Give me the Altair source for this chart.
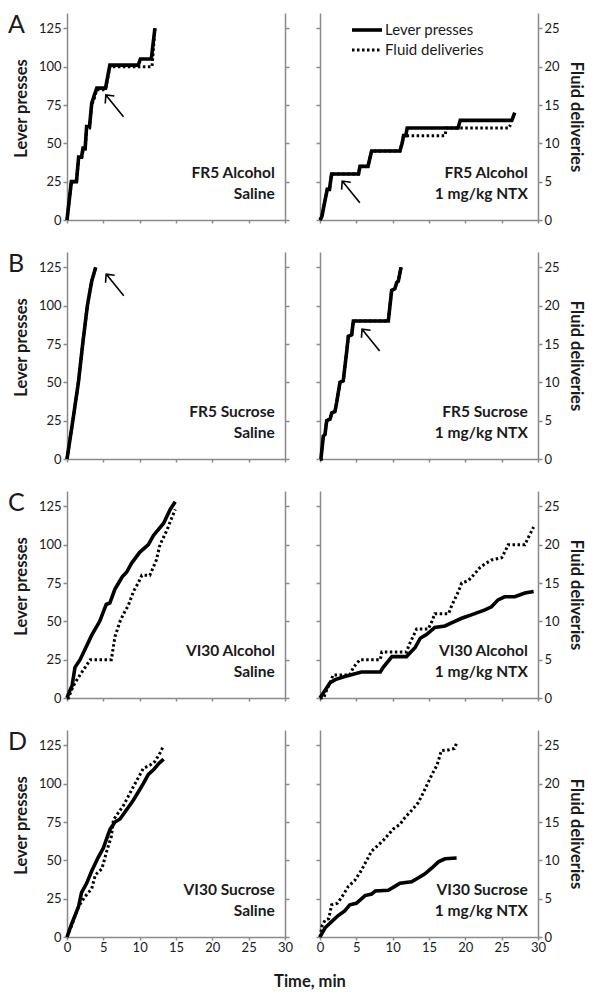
import altair as alt
import pandas as pd

FONT = "Lato"
GRAY = "#8a8a8a"
INK = "#1a1a1a"

# ---------------- data (time in min; lever presses; fluid deliveries) ----------------
# Row A : FR5 Alcohol
A_sal_lever_t = [0, 0.6, 1.3, 1.6, 2.0, 2.2, 2.5, 2.7, 3.1, 3.4, 3.8, 4.1, 5.3, 5.9, 9.8, 10.1, 11.6, 12.1]
A_sal_lever_v = [0, 25, 25, 41, 41, 47, 47, 61, 61, 76, 82, 86, 86, 101, 101, 105, 105, 125]
A_sal_fluid_t = [0, 0.6, 1.3, 1.6, 2.0, 2.2, 2.5, 2.7, 3.1, 3.4, 3.8, 4.1, 5.3, 5.9, 11.7, 12.1]
A_sal_fluid_v = [0, 5, 5, 8, 8, 9, 9, 12, 12, 15, 16, 17, 17, 20, 20, 25]
A_ntx_lever_t = [0, 0.25, 0.7, 1.0, 1.3, 1.6, 5.3, 5.5, 6.6, 7.1, 11.0, 11.3, 11.5, 11.8, 12.0, 19.0, 19.3, 26.4, 26.8]
A_ntx_lever_v = [0, 2, 13, 20, 20, 30, 30, 35, 35, 45, 45, 50, 55, 55, 60, 60, 65, 65, 70]
A_ntx_fluid_t = [0, 0.25, 0.7, 1.0, 1.3, 1.6, 5.3, 5.5, 6.6, 7.1, 11.0, 11.3, 11.5, 17.2, 17.4, 26.0, 26.2]
A_ntx_fluid_v = [0, 0.4, 2.6, 4, 4, 6, 6, 7, 7, 9, 9, 10, 11, 11, 12, 12, 12.4]

# Row B : FR5 Sucrose
B_sal_lever_t = [0, 0.8, 1.57, 2.16, 2.8, 3.4, 3.95]
B_sal_lever_v = [0, 25, 50, 75, 100, 116, 125]
B_sal_fluid_t = [0, 0.8, 1.57, 2.16, 2.8, 3.4, 3.95]
B_sal_fluid_v = [0, 5, 10, 15, 20, 23.2, 25]
B_ntx_lever_t = [0, 0.13, 0.46, 0.69, 0.92, 1.38, 1.61, 2.06, 2.3, 2.75, 3.2, 3.67, 3.9, 4.36, 4.59, 9.4, 9.63, 9.86, 10.3, 10.55, 10.78, 11.15]
B_ntx_lever_v = [0, 0, 15, 16, 25, 26, 30, 31, 37, 50, 51, 70, 80, 81, 90, 90, 100, 110, 111, 115, 116, 125]
B_ntx_fluid_t = [0, 0.13, 0.46, 0.69, 0.92, 1.38, 1.61, 2.06, 2.3, 2.75, 3.2, 3.67, 3.9, 4.36, 4.59, 9.4, 9.63, 9.86, 10.3, 10.55, 10.78, 11.15]
B_ntx_fluid_v = [0, 0, 3, 3.2, 5, 5.2, 6, 6.2, 7.4, 10, 10.2, 14, 16, 16.2, 18, 18, 20, 22, 22.2, 23, 23.2, 25]

# Row C : VI30 Alcohol
C_sal_lever_t = [0, 0.4, 0.7, 1.1, 1.8, 2.5, 3.4, 4.5, 5.4, 5.9, 6.6, 7.1, 7.6, 8.2, 8.9, 10.0, 11.2, 11.9, 13.3, 13.8, 14.2, 14.9]
C_sal_lever_v = [0, 5, 8, 20, 25, 32, 41, 50, 61, 62, 71, 75, 79, 82, 88, 95, 100, 106, 114, 119, 123, 128]
C_sal_fluid_t = [0, 0.2, 0.6, 1.1, 1.8, 2.5, 3.2, 6.1, 6.6, 7.3, 7.8, 8.4, 9.2, 9.8, 10.3, 11.4, 12.3, 12.8, 13.3, 13.8, 14.2, 14.9]
C_sal_fluid_v = [0, 0, 1, 2, 3, 4, 5, 5, 8, 10, 11, 12, 14, 15, 16, 16, 18, 20, 21, 22, 23, 24.6]
C_ntx_lever_t = [0, 0.7, 1.4, 2.1, 3.4, 5.7, 8.3, 8.7, 9.9, 11.9, 12.4, 13.1, 13.8, 14.7, 15.8, 17.2, 18.1, 19.5, 21.3, 22.7, 23.6, 24.5, 25.4, 26.8, 28.2, 29.4]
C_ntx_lever_v = [0, 5, 10, 12, 14, 17, 17, 20, 27, 27, 29.5, 33, 39, 41.5, 46, 47, 49, 52, 55, 57.5, 59.5, 64, 66, 66, 68.5, 69.5]
C_ntx_fluid_t = [0, 0.5, 0.9, 1.4, 1.8, 4.1, 4.6, 5.5, 8.3, 8.5, 11.9, 12.3, 12.8, 13.3, 14.9, 15.4, 15.8, 17.7, 18.1, 18.6, 19.1, 19.5, 20.4, 21.1, 22.0, 22.7, 23.6, 25.0, 25.4, 25.9, 28.2, 28.8, 29.4]
C_ntx_fluid_v = [0, 0, 1, 2, 3, 3, 4, 5, 5, 6, 6, 7, 8, 9, 9, 10, 11, 11, 12, 13, 14, 15, 15.3, 16, 17, 17.5, 18, 18.3, 19, 20, 20, 21.2, 22.3]

# Row D : VI30 Sucrose
D_sal_lever_t = [0, 0.6, 1.6, 2.0, 2.7, 3.4, 4.3, 5.0, 5.9, 6.6, 7.3, 8.2, 9.1, 10.0, 10.5, 11.2, 11.9, 12.6, 13.3]
D_sal_lever_v = [0, 8, 20, 29, 35, 43, 52, 58, 70, 75, 77, 83, 89, 96, 100, 106, 109, 113, 116]
D_sal_fluid_t = [0, 0.6, 1.6, 2.5, 3.4, 3.9, 4.8, 5.5, 6.1, 6.4, 7.8, 8.9, 10.0, 10.5, 11.4, 12.1, 12.8, 13.3]
D_sal_fluid_v = [0, 1.4, 4, 5.3, 6.3, 8.1, 8.9, 11.3, 13.1, 15.3, 17.2, 19.2, 21.1, 22, 22.4, 22.9, 24, 25]
D_ntx_lever_t = [0, 0.7, 1.6, 2.5, 3.4, 4.1, 5.0, 5.5, 6.2, 7.1, 7.6, 9.4, 10.3, 11.0, 12.6, 13.5, 14.4, 15.4, 16.3, 17.2, 18.8]
D_ntx_lever_v = [0, 6, 10, 14, 17, 21, 22, 24, 27, 28, 30, 30.5, 33, 35, 36, 38.5, 41, 45, 49, 51, 51.5]
D_ntx_fluid_t = [0, 0.3, 0.7, 1.2, 1.6, 2.4, 3.0, 3.9, 4.8, 5.7, 6.2, 7.1, 7.8, 8.7, 10.1, 11.0, 11.7, 12.6, 13.5, 14.1, 14.7, 15.4, 16.1, 16.7, 17.7, 18.5, 18.8]
D_ntx_fluid_v = [0, 1.5, 2.2, 2.4, 4.2, 4.4, 5.2, 6.6, 7.4, 8.7, 9.6, 11.2, 11.8, 12.6, 14.1, 14.7, 15.6, 16.5, 17.5, 18.6, 19.8, 21.2, 22.4, 24.3, 24.4, 24.6, 25.3]

ROW_LETTERS = ["A", "B", "C", "D"]
ROW_CONDITIONS = ["FR5 Alcohol", "FR5 Sucrose", "VI30 Alcohol", "VI30 Sucrose"]
TREATMENTS = ["Saline", "1 mg/kg NTX"]

# arrow annotations: (row, column) -> (time, lever presses) of arrow centre
ARROWS = {(0, 0): (6.56, 74.5), (0, 1): (4.27, 18.3), (1, 0): (6.6, 113.5), (1, 1): (7.0, 77.6)}

SERIES = [
    [(A_sal_lever_t, A_sal_lever_v, A_sal_fluid_t, A_sal_fluid_v), (A_ntx_lever_t, A_ntx_lever_v, A_ntx_fluid_t, A_ntx_fluid_v)],
    [(B_sal_lever_t, B_sal_lever_v, B_sal_fluid_t, B_sal_fluid_v), (B_ntx_lever_t, B_ntx_lever_v, B_ntx_fluid_t, B_ntx_fluid_v)],
    [(C_sal_lever_t, C_sal_lever_v, C_sal_fluid_t, C_sal_fluid_v), (C_ntx_lever_t, C_ntx_lever_v, C_ntx_fluid_t, C_ntx_fluid_v)],
    [(D_sal_lever_t, D_sal_lever_v, D_sal_fluid_t, D_sal_fluid_v), (D_ntx_lever_t, D_ntx_lever_v, D_ntx_fluid_t, D_ntx_fluid_v)],
]

W, H = 218, 207
ARROW_PATH = "M0,-1L0,1M-0.42,-0.55L0,-1L0.42,-0.55"
ONE = alt.Data(values=[{"k": 1}])
TITLE_SIZE = 16.5


def series_df(t, v):
    return pd.DataFrame({"t": t, "v": v, "i": list(range(len(t)))})


def panel(row, col):
    lt, lv, ft, fv = SERIES[row][col]
    is_left = col == 0
    is_bottom = row == 3

    x_axis = alt.Axis(values=[0, 5, 10, 15, 20, 25, 30], labels=is_bottom, title=None,
                      labelFlush=False, labelOverlap=False, tickSize=3, labelPadding=1)
    xenc = alt.X("t:Q", scale=alt.Scale(domain=[0, 30], nice=False, zero=False), axis=x_axis)

    if is_left:
        l_axis = alt.Axis(orient="left", values=[0, 25, 50, 75, 100, 125], title="Lever presses",
                          labelFlush=False, labelOverlap=False, titlePadding=9, titleY=95)
        r_axis = alt.Axis(orient="right", values=[0, 5, 10, 15, 20, 25], labels=False, title=None)
    else:
        l_axis = alt.Axis(orient="left", values=[0, 25, 50, 75, 100, 125], labels=False, title=None)
        r_axis = alt.Axis(orient="right", values=[0, 5, 10, 15, 20, 25], title="Fluid deliveries",
                          labelFlush=False, labelOverlap=False, titlePadding=8)
    yL = alt.Y("v:Q", scale=alt.Scale(domain=[0, 135], nice=False), axis=l_axis)
    yR = alt.Y("v:Q", scale=alt.Scale(domain=[0, 27], nice=False), axis=r_axis)

    fluid = alt.Chart(series_df(ft, fv)).mark_line(
        color="black", strokeWidth=3, strokeDash=[2.5, 2.5], clip=False
    ).encode(x=xenc, y=yR, order="i:Q")

    lever = alt.Chart(series_df(lt, lv)).mark_line(
        color="black", strokeWidth=3.6, clip=False
    ).encode(x=xenc, y=yL, order="i:Q")

    lab_df = pd.DataFrame({"t": [28.6, 28.6], "v": [30.5, 17.0],
                           "txt": [ROW_CONDITIONS[row], TREATMENTS[col]]})
    labels = alt.Chart(lab_df).mark_text(
        align="right", baseline="middle", font=FONT, fontSize=15.5, fontWeight="bold", color=INK
    ).encode(x=xenc, y=yL, text="txt:N")

    inner = [lever, labels]

    if (row, col) in ARROWS:
        at, av = ARROWS[(row, col)]
        arrow = alt.Chart(pd.DataFrame({"t": [at], "v": [av]})).mark_point(
            shape=ARROW_PATH, size=784, angle=321, filled=False, color="black",
            strokeWidth=1.6, opacity=1
        ).encode(x=xenc, y=yL)
        inner.append(arrow)

    if is_left:
        letter = alt.Chart(ONE).mark_text(
            text=ROW_LETTERS[row], align="left", baseline="alphabetic", font=FONT,
            fontSize=25, color=INK
        ).encode(x=alt.value(-59), y=alt.value(20))
        inner.append(letter)

    if row == 0 and col == 1:
        leg_solid = alt.Chart(ONE).mark_rule(color="black", strokeWidth=3.6).encode(
            x=alt.value(32), x2=alt.value(62), y=alt.value(17))
        leg_dot = alt.Chart(ONE).mark_rule(color="black", strokeWidth=3, strokeDash=[2.5, 2.5]).encode(
            x=alt.value(32), x2=alt.value(62), y=alt.value(37))
        leg_t1 = alt.Chart(ONE).mark_text(text="Lever presses", align="left", baseline="middle",
                                           font=FONT, fontSize=15, color=INK).encode(
            x=alt.value(65), y=alt.value(17))
        leg_t2 = alt.Chart(ONE).mark_text(text="Fluid deliveries", align="left", baseline="middle",
                                           font=FONT, fontSize=15, color=INK).encode(
            x=alt.value(65), y=alt.value(37))
        inner += [leg_solid, leg_dot, leg_t1, leg_t2]

    if is_bottom and is_left:
        xt = alt.Chart(ONE).mark_text(text="Time, min", align="center", baseline="middle",
                                      font=FONT, fontSize=TITLE_SIZE, fontWeight="bold", color=INK).encode(
            x=alt.value(243), y=alt.value(252))
        inner.append(xt)

    return alt.layer(fluid, alt.layer(*inner)).resolve_scale(y="independent").properties(width=W, height=H)


panels = [panel(r, c) for r in range(4) for c in range(2)]
chart = alt.concat(
    *panels, columns=2, spacing={"row": 32, "column": 35}, bounds="flush"
).properties(
    padding={"top": 5, "right": 3, "left": 0, "bottom": 1}
).configure_view(
    strokeWidth=0
).configure_axis(
    grid=False, domainColor=GRAY, tickColor=GRAY, domainWidth=1.5, tickWidth=1.5, tickSize=4,
    labelFont=FONT, labelFontSize=13, labelColor=INK, labelPadding=2,
    titleFont=FONT, titleFontSize=TITLE_SIZE, titleFontWeight="bold", titleColor=INK
)

chart.save("out.html", embed_options={"renderer": "svg", "actions": False})
